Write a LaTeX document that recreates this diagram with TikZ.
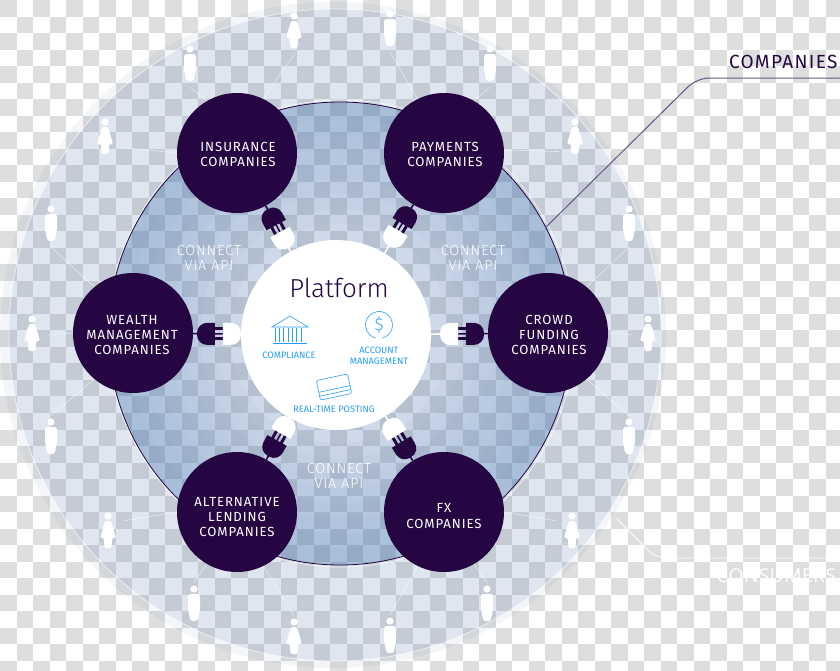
\documentclass[tikz,border=0pt]{standalone}
\usepackage{fontspec}
\usetikzlibrary{calc}
\setmainfont{Fira Sans}
\newfontfamily\lightfont{Fira Sans}[UprightFont=* Light]
\newfontfamily\spacedfont{Fira Sans}[LetterSpace=7]
\newfontfamily\thinfont{Fira Sans}[UprightFont=* Light,LetterSpace=6]
\newfontfamily\openfont{Open Sans}[LetterSpace=3]
\definecolor{deep}{RGB}{37,6,66}
\definecolor{sky}{RGB}{42,157,244}
\definecolor{chk}{RGB}{222,222,222}
\definecolor{mist}{RGB}{90,123,176}
\definecolor{steel}{RGB}{50,110,175}
\definecolor{leadcol}{RGB}{105,85,140}

\begin{document}
\begin{tikzpicture}[x=1pt, y=-1pt,
  company/.style={circle, fill=deep, minimum size=120pt, inner sep=0pt},
  comptext/.style={text=white, align=center, font=\spacedfont\fontsize{13.2}{15.4}\selectfont},
  platform/.style={circle, fill=white, minimum size=190pt, inner sep=0pt},
  person/.style={minimum width=32pt, minimum height=44pt, inner sep=0pt},
  link/.style={white, line width=0.7pt, opacity=0.5},
  icon/.style={sky, line width=0.6pt},
  iconlabel/.style={text=sky, align=center, font=\fontsize{9.3}{10.5}\selectfont},
  apilabel/.style={text=white, align=center, font=\thinfont\fontsize{14.4}{15}\selectfont},
  man/.pic={
    \fill[white] (0,-16) circle (3.6);
    \fill[white, rounded corners=2.5pt] (-6,-11) -- (6,-11) -- (6,4) -- (3.6,16) -- (-3.6,16) -- (-6,4) -- cycle;
  },
  woman/.pic={
    \fill[white] (0,-16) circle (3.6);
    \fill[white, rounded corners=1.5pt] (-3,-11) -- (3,-11) -- (8,6) -- (4,6) -- (3.6,16) -- (-3.6,16) -- (-4,6) -- (-8,6) -- cycle;
  },
  plug/.pic={
    \fill[deep] (-8,-11) [rounded corners=10pt] -- (-26,-11) -- (-26,11) [sharp corners] -- (-8,11) -- cycle;
    \fill[deep] (-9,-6.5) rectangle (0,-3.5);
    \fill[deep] (-9,3.5) rectangle (0,6.5);
    \fill[white] (0,-11) [rounded corners=10pt] -- (18,-11) -- (18,11) [sharp corners] -- (0,11) -- cycle;
  }]
\useasboundingbox (0,0) rectangle (840,670);
% backdrop
\fill[white] (0,0) rectangle (840,670);
\foreach \i in {0,2,...,50} \foreach \j in {0,2,...,40} {
  \fill[chk] (\i*16.52,\j*16.52) rectangle ++(16.52,16.52);
  \fill[chk] (\i*16.52+16.52,\j*16.52+16.52) rectangle ++(16.52,16.52);
}

% rings
\fill[mist, opacity=0.07] (333,335) circle (333);
\fill[mist, opacity=0.12] (335,335) circle (326);
\draw[white, line width=0.7pt, opacity=0.7] (335,335) circle (326);
\fill[steel, opacity=0.1] (340,333.5) circle (231.5);
\foreach \r in {110,125,...,225} {
  \fill[steel, opacity=0.03, even odd rule] (340,333.5) circle (231.5) (340,333.5) circle (\r);
}
\draw[white, line width=0.8pt, opacity=0.7] (341,333.5) circle (233.5);
\draw[deep, line width=0.8pt] (340,333.5) circle (231.5);

% nodes
\node[platform] (plat) at (336,335) {};
\node[company, label={[comptext, xshift=1pt, yshift=-1.5pt]center:{INSURANCE\\COMPANIES}}] (ins) at (237,153) {};
\node[company, label={[comptext, xshift=1pt, yshift=-1.5pt]center:{PAYMENTS\\COMPANIES}}] (pay) at (444,153) {};
\node[company, label={[comptext, xshift=1pt, yshift=-2pt]center:{CROWD\\FUNDING\\COMPANIES}}] (crowd) at (548,333) {};
\node[company, label={[comptext, yshift=-4pt]center:{FX\\COMPANIES}}] (fx) at (444,512) {};
\node[company, label={[comptext, yshift=-5pt]center:{ALTERNATIVE\\LENDING\\COMPANIES}}] (alt) at (237,512) {};
\node[company, label={[comptext, xshift=-1pt, yshift=-2pt]center:{WEALTH\\MANAGEMENT\\COMPANIES}}] (wealth) at (133,333) {};

% consumers
\node[person] (u1) at (294,32) {}; \pic at (u1) {woman};
\node[person] (u2) at (390,30) {}; \pic at (u2) {man};
\node[person] (u3) at (490,65) {}; \pic at (u3) {man};
\node[person] (u4) at (575,138) {}; \pic at (u4) {woman};
\node[person] (u5) at (629,225) {}; \pic at (u5) {man};
\node[person] (u6) at (648,335) {}; \pic at (u6) {woman};
\node[person] (u7) at (629,438) {}; \pic at (u7) {man};
\node[person] (u8) at (572,532) {}; \pic at (u8) {woman};
\node[person] (u9) at (487,605) {}; \pic at (u9) {man};
\node[person] (u10) at (390,637) {}; \pic at (u10) {man};
\node[person] (u11) at (294,638) {}; \pic at (u11) {woman};
\node[person] (u12) at (194,605) {}; \pic at (u12) {man};
\node[person] (u13) at (108,532) {}; \pic at (u13) {woman};
\node[person] (u14) at (51,438) {}; \pic at (u14) {man};
\node[person] (u15) at (32,335) {}; \pic at (u15) {woman};
\node[person] (u16) at (51,225) {}; \pic at (u16) {man};
\node[person] (u17) at (105,138) {}; \pic at (u17) {woman};
\node[person] (u18) at (190,65) {}; \pic at (u18) {man};

\draw[link] (u1.south) -- (ins.64);
\draw[link] (u2.south) -- (pay.116);
\draw[link] (u3.south) -- (pay.60);
\draw[link] (u4.220) -- (pay.3);
\draw[link] (u5.south) -- (crowd.50);
\draw[link] (u6.west) -- (crowd.0);
\draw[link] (u7.north) -- (crowd.-50);
\draw[link] (u8.145) -- (fx.0);
\draw[link] (u9.north) -- (fx.-60);
\draw[link] (u10.north) -- (fx.-116);
\draw[link] (u11.north) -- (alt.-64);
\draw[link] (u12.north) -- (alt.-120);
\draw[link] (u13.35) -- (alt.180);
\draw[link] (u14.north) -- (wealth.-130);
\draw[link] (u15.east) -- (wealth.180);
\draw[link] (u16.south) -- (wealth.130);
\draw[link] (u17.-30) -- (ins.180);
\draw[link] (u18.south) -- (ins.120);

% plugs
\coordinate (p1) at ($(ins)!90pt!(plat)$);
\coordinate (p2) at ($(pay)!90pt!(plat)$);
\coordinate (p3) at ($(crowd)!90pt!(plat)$);
\coordinate (p4) at ($(fx)!90pt!(plat)$);
\coordinate (p5) at ($(alt)!90pt!(plat)$);
\coordinate (p6) at ($(wealth)!90pt!(plat)$);
\draw[deep, line width=1.6pt] (ins) -- (p1);
\draw[deep, line width=1.6pt] (pay) -- (p2);
\draw[deep, line width=1.6pt] (crowd) -- (p3);
\draw[deep, line width=1.6pt] (fx) -- (p4);
\draw[deep, line width=1.6pt] (alt) -- (p5);
\draw[deep, line width=1.6pt] (wealth) -- (p6);
\draw[white, line width=1.6pt] (plat) -- (p1);
\draw[white, line width=1.6pt] (plat) -- (p2);
\draw[white, line width=1.6pt] (plat) -- (p3);
\draw[white, line width=1.6pt] (plat) -- (p4);
\draw[white, line width=1.6pt] (plat) -- (p5);
\draw[white, line width=1.6pt] (plat) -- (p6);
\pic[rotate=-61.5] at (p1) {plug};
\pic[rotate=-120.7] at (p2) {plug};
\pic[rotate=180] at (p3) {plug};
\pic[rotate=121.4] at (p4) {plug};
\pic[rotate=60.8] at (p5) {plug};
\pic at (p6) {plug};

% platform contents
\node[text=deep, font=\lightfont\fontsize{26}{28}\selectfont] (plattitle) at (339,288) {Platform};
\draw[icon] (272,327) -- (290,316) -- (308,327) -- cycle;
\draw[icon] (273,343) -- (307,343);
\foreach \x in {275,279.3,...,305} {
  \draw[icon] (\x,328) -- (\x,342);
}
\draw[icon] (375.5,338) arc[start angle=105, end angle=435, radius=13.5];
\node[text=sky, font=\lightfont\fontsize{17}{18}\selectfont] (dollar) at (379,325) {\$};
\begin{scope}[shift={(334,387)}, rotate=12]
\draw[icon, rounded corners=1.5pt] (-16,-10) rectangle (16,10);
\draw[icon] (-16,2) -- (16,2);
\draw[icon] (-16,6) -- (16,6);
\end{scope}
\node[iconlabel] (compl) at (289,355) {COMPLIANCE};
\node[iconlabel] (acct) at (379,356) {ACCOUNT\\MANAGEMENT};
\node[iconlabel] (post) at (334,409) {REAL-TIME POSTING};

% labels
\node[apilabel] (api1) at (209,258) {CONNECT\\VIA API};
\node[apilabel] (api2) at (473,258) {CONNECT\\VIA API};
\node[apilabel] (api3) at (339,476) {CONNECT\\VIA API};

\coordinate (compa) at (545,228);
\coordinate (compb) at (697,78);
\coordinate (compc) at (840,78);
\draw[leadcol, line width=1pt, rounded corners=12pt] (compa) -- (compb) -- (compc);
\node[text=deep, font=\spacedfont\fontsize{19}{20}\selectfont, anchor=west] (complabel) at (725.5,62) {COMPANIES};

\coordinate (consa) at (617,519);
\coordinate (consb) at (656,558);
\coordinate (consc) at (828,558);
\draw[white, line width=0.8pt, rounded corners=10pt] (consa) -- (consb) -- (consc);
\node[text=white, font=\openfont\fontsize{19}{20}\selectfont, anchor=west] (conslabel) at (713,576) {CONSUMERS};
\end{tikzpicture}
\end{document}
